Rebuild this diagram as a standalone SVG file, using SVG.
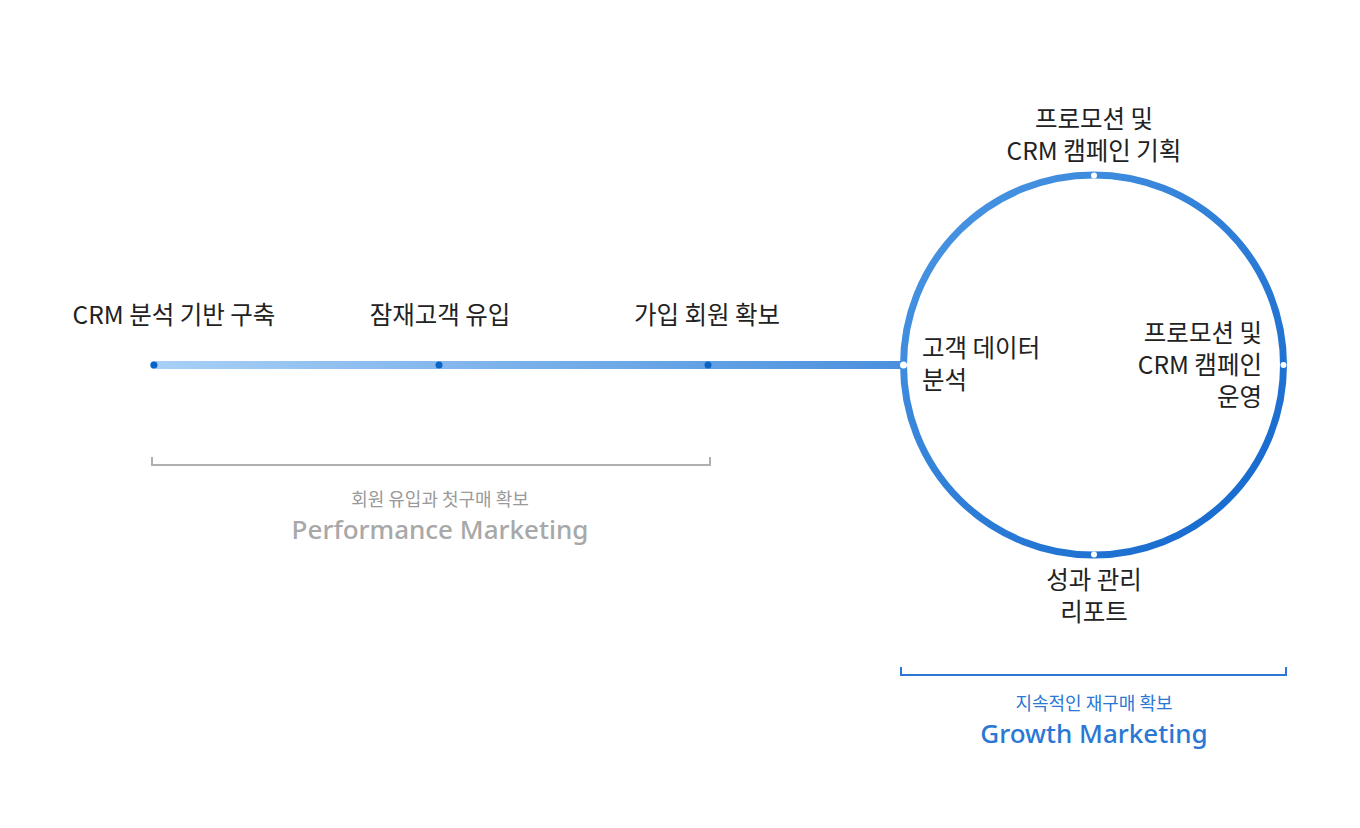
<svg xmlns="http://www.w3.org/2000/svg" width="1360" height="828" viewBox="0 0 1360 828">
<style>
.lbl{font-family:"Noto Sans CJK KR","Noto Sans",sans-serif;font-size:24.5px;font-weight:400;fill:#222;}
.c{text-anchor:middle;}
.r{text-anchor:end;}
.sub{font-family:"Noto Sans CJK KR","Noto Sans",sans-serif;font-size:18px;font-weight:400;text-anchor:middle;}
.big{font-family:"Noto Sans","Open Sans",sans-serif;font-size:26px;font-weight:500;text-anchor:middle;}
.dot{fill:#0a64c8;}
.wdot{fill:#fff;}
</style>
<defs>
<linearGradient id="lineG" x1="154" y1="0" x2="903" y2="0" gradientUnits="userSpaceOnUse">
<stop offset="0" stop-color="#a8d0f6"/>
<stop offset="1" stop-color="#4a90de"/>
</linearGradient>
<linearGradient id="circG" x1="903" y1="176" x2="1284" y2="554" gradientUnits="userSpaceOnUse">
<stop offset="0" stop-color="#4d98e4"/>
<stop offset="1" stop-color="#1166cc"/>
</linearGradient>
</defs>
<g id="connectors">
<line x1="154" y1="365" x2="903" y2="365" stroke="url(#lineG)" stroke-width="8" stroke-linecap="round"/>
<circle cx="1093.5" cy="365" r="190" fill="none" stroke="url(#circG)" stroke-width="7"/>
</g>
<g id="dots">
<circle class="dot" cx="154" cy="365" r="3.5"/>
<circle class="dot" cx="439" cy="365" r="3.5"/>
<circle class="dot" cx="708" cy="365" r="3.5"/>
<circle class="wdot" cx="903.5" cy="365" r="3.5"/>
<circle class="wdot" cx="1094" cy="175.5" r="3"/>
<circle class="wdot" cx="1283.5" cy="365" r="3"/>
<circle class="wdot" cx="1094" cy="554.5" r="3"/>
</g>
<g id="n-crm"><text class="lbl c" x="174" y="324">CRM 분석 기반 구축</text></g>
<g id="n-potential"><text class="lbl c" x="440" y="324">잠재고객 유입</text></g>
<g id="n-join"><text class="lbl c" x="707" y="324">가입 회원 확보</text></g>
<g id="n-plan"><text class="lbl c" x="1094" y="128">프로모션 및</text><text class="lbl c" x="1094" y="160">CRM 캠페인 기획</text></g>
<g id="n-analysis"><text class="lbl" x="922" y="357">고객 데이터</text><text class="lbl" x="922" y="389">분석</text></g>
<g id="n-operate"><text class="lbl r" x="1262" y="342">프로모션 및</text><text class="lbl r" x="1262" y="374">CRM 캠페인</text><text class="lbl r" x="1262" y="406">운영</text></g>
<g id="n-report"><text class="lbl c" x="1094" y="589">성과 관리</text><text class="lbl c" x="1094" y="621">리포트</text></g>
<g id="perf">
<path d="M152 457 V465 H710 V457" fill="none" stroke="#b0b0b0" stroke-width="2"/>
<text class="sub" x="440" y="506" fill="#9a9a9a">회원 유입과 첫구매 확보</text>
<text class="big" x="440" y="539" fill="#a8a8a8">Performance Marketing</text>
</g>
<g id="growth">
<path d="M901 667 V675 H1286 V667" fill="none" stroke="#2a78d4" stroke-width="2"/>
<text class="sub" x="1094" y="710" fill="#2a78d4">지속적인 재구매 확보</text>
<text class="big" x="1094" y="743" fill="#2a78d4">Growth Marketing</text>
</g>
</svg>
